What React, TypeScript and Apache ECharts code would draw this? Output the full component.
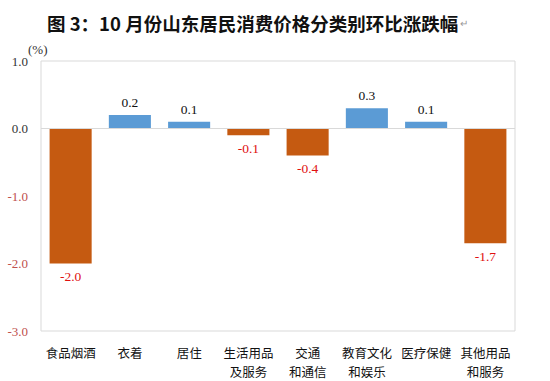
import React, { useEffect, useRef } from "react";
import * as echarts from "echarts";

const categories = ["食品烟酒", "衣着", "居住", "生活用品\n及服务", "交通\n和通信", "教育文化\n和娱乐", "医疗保健", "其他用品\n和服务"];
const values = [-2.0, 0.2, 0.1, -0.1, -0.4, 0.3, 0.1, -1.7];
const yTicks = [1.0, 0.0, -1.0, -2.0, -3.0];
const titleText = "图 3：10 月份山东居民消费价格分类别环比涨跌幅";

const serif = "'Liberation Serif', 'Noto Sans CJK SC', serif";
const cjk = "'Noto Sans CJK SC', sans-serif";

export default function App() {
  const ref = useRef<HTMLDivElement>(null);
  useEffect(() => {
    const chart = echarts.init(ref.current!, null, { renderer: "svg" });
    chart.setOption({
      animation: false,
      backgroundColor: "#ffffff",
      title: {
        text: titleText,
        left: 42,
        top: 9,
        textStyle: { fontFamily: cjk, fontWeight: "bold", fontSize: 18.5, color: "#111" },
      },
      graphic: [
        { type: "text", left: 460, top: 18, style: { text: "↵", fontSize: 10, fill: "#999" } },
        { type: "text", left: 28, top: 43, style: { text: "(%)", fontSize: 13, fontFamily: serif, fill: "#333" } },
      ],
      grid: {
        left: 41,
        right: 35,
        top: 61,
        bottom: 50,
        show: true,
        borderColor: "#d9d9d9",
        borderWidth: 1,
      },
      xAxis: {
        type: "category",
        data: categories,
        position: "bottom",
        axisLine: { show: false },
        axisTick: { show: false },
        axisLabel: {
          interval: 0,
          fontFamily: cjk,
          fontSize: 12.5,
          color: "#111",
          margin: 12,
          lineHeight: 19,
          align: "center",
        },
      },
      yAxis: {
        type: "value",
        min: -3,
        max: 1,
        interval: 1,
        splitLine: { show: false },
        axisLine: { show: false },
        axisTick: { show: false },
        axisLabel: {
          fontFamily: serif,
          fontSize: 13,
          margin: 13,
          formatter: (v: number) => v.toFixed(1),
          color: (v: any) => (Number(v) < 0 ? "#c0504d" : "#333"),
        },
      },
      series: [
        {
          type: "bar",
          barWidth: "71%",
          data: values.map((v) => ({
            value: v,
            itemStyle: { color: v >= 0 ? "#5b9bd5" : "#c55a11" },
            label: {
              show: true,
              position: v >= 0 ? "top" : "bottom",
              color: v >= 0 ? "#111" : "#e01010",
              fontFamily: serif,
              fontSize: 13.5,
              distance: 6,
              formatter: (p: any) => Number(p.value).toFixed(1),
            },
          })),
          markLine: {
            silent: true,
            symbol: "none",
            label: { show: false },
            lineStyle: { color: "#d9d9d9", width: 1, type: "solid" },
            data: [{ yAxis: 0 }],
          },
        },
      ],
    });
    return () => chart.dispose();
  }, []);
  return <div ref={ref} style={{ width: 550, height: 381, position: "absolute", left: 0, top: 0 }} />;
}
